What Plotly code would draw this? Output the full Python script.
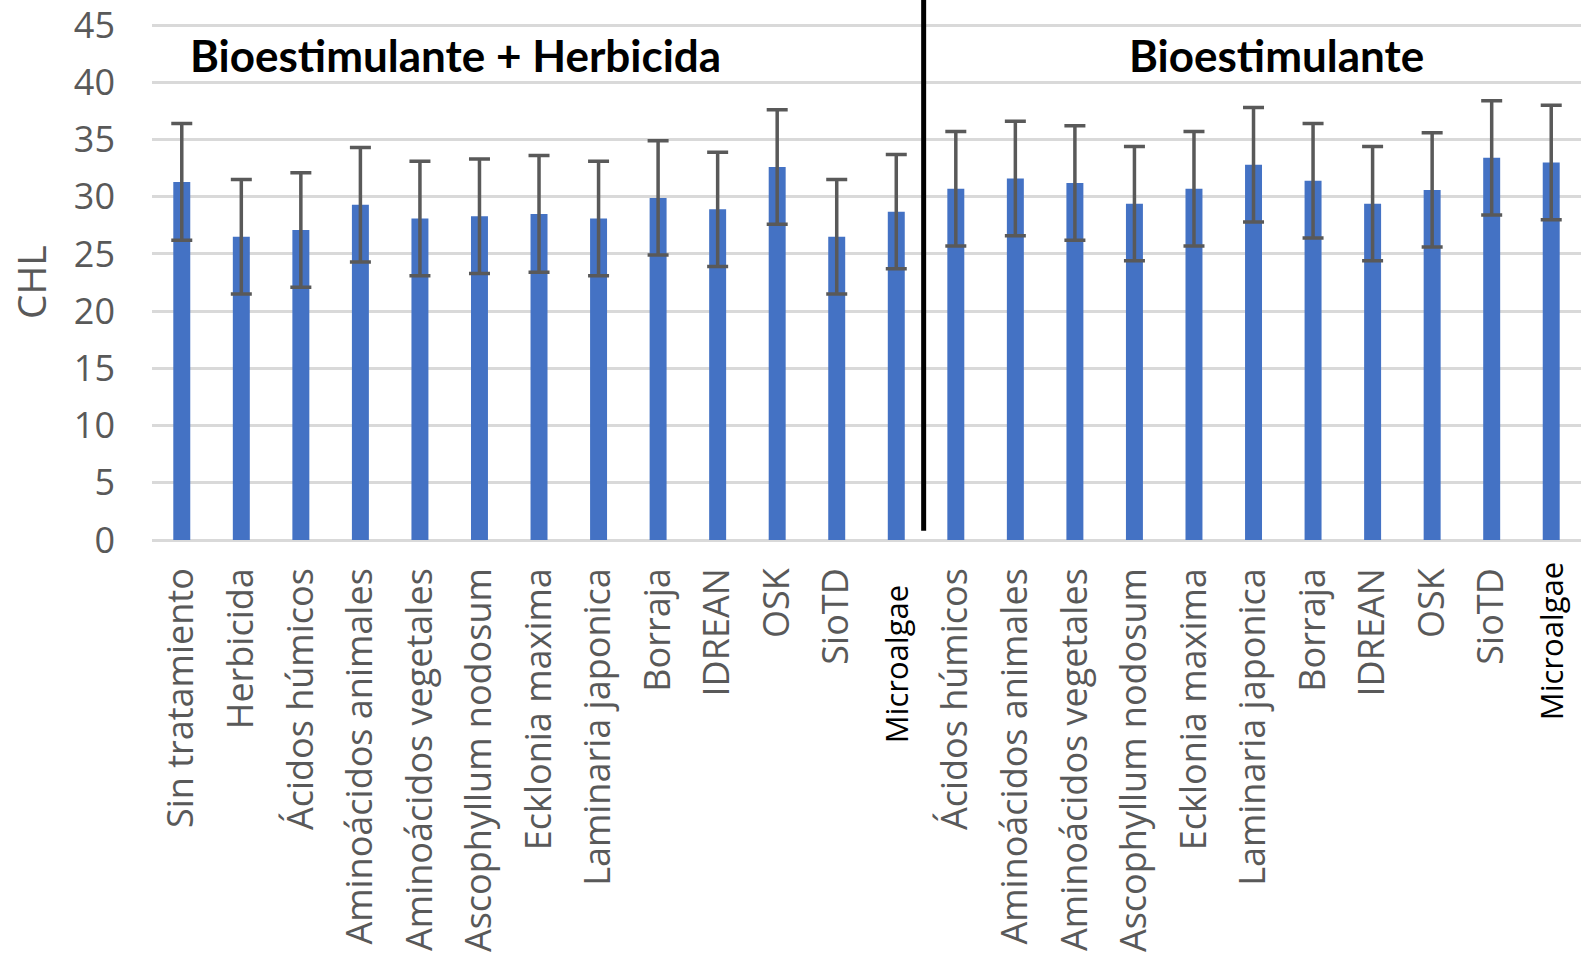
import plotly.graph_objects as go

labels = ["Sin tratamiento", "Herbicida", "Ácidos húmicos", "Aminoácidos animales",
          "Aminoácidos vegetales", "Ascophyllum nodosum", "Ecklonia maxima",
          "Laminaria japonica", "Borraja", "IDREAN", "OSK", "SioTD", "Microalgae",
          "Ácidos húmicos", "Aminoácidos animales", "Aminoácidos vegetales",
          "Ascophyllum nodosum", "Ecklonia maxima", "Laminaria japonica", "Borraja",
          "IDREAN", "OSK", "SioTD", "Microalgae"]
chl = [31.3, 26.5, 27.1, 29.3, 28.1, 28.3, 28.5, 28.1, 29.9, 28.9, 32.6, 26.5, 28.7,
       30.7, 31.6, 31.2, 29.4, 30.7, 32.8, 31.4, 29.4, 30.6, 33.4, 33.0]
err = [5.1, 5.0, 5.0, 5.0, 5.0, 5.0, 5.1, 5.0, 5.0, 5.0, 5.0, 5.0, 5.0,
       5.0, 5.0, 5.0, 5.0, 5.0, 5.0, 5.0, 5.0, 5.0, 5.0, 5.0]
group_titles = ["Bioestimulante + Herbicida", "Bioestimulante"]
yticks = [0, 5, 10, 15, 20, 25, 30, 35, 40, 45]

x = list(range(len(labels)))
ticktext = [("" if lab == "Microalgae" else lab) for lab in labels]

fig = go.Figure()
fig.add_trace(go.Bar(
    x=x, y=chl,
    marker=dict(color="#4472C4", line=dict(width=0)),
    error_y=dict(type="data", array=err, visible=True, color="#595959",
                 thickness=3.5, width=10.5),
))

fig.update_layout(
    width=1581, height=960,
    margin=dict(l=152, r=0, t=24, b=420),
    paper_bgcolor="white", plot_bgcolor="white",
    bargap=0.715, showlegend=False,
    xaxis=dict(range=[-0.5, 23.5], tickmode="array", tickvals=x, ticktext=ticktext,
               tickangle=-90, showgrid=False, zeroline=False, showline=False,
               ticks="", ticklabelstandoff=20,
               tickfont=dict(family="Open Sans", size=36, color="#595959")),
    yaxis=dict(range=[0, 45.1], tickmode="array", tickvals=yticks,
               showgrid=True, gridcolor="#D9D9D9", gridwidth=3,
               zeroline=True, zerolinecolor="#D9D9D9", zerolinewidth=3,
               showline=False, ticks="", ticklabelstandoff=36,
               ticklabeloverflow="allow",
               tickfont=dict(family="Open Sans", size=36, color="#595959")),
)

# vertical divider
fig.add_shape(type="line", xref="x", yref="paper", x0=12.46, x1=12.46,
              y0=0.018, y1=1.06, line=dict(color="black", width=5))

# group titles
fig.add_annotation(text="<b>" + group_titles[0] + "</b>", xref="paper", yref="y",
                   x=0.2127, y=42.35, showarrow=False, xanchor="center", yanchor="middle",
                   font=dict(family="Lato", size=44, color="black"))
fig.add_annotation(text="<b>" + group_titles[1] + "</b>", xref="paper", yref="y",
                   x=0.7866, y=42.35, showarrow=False, xanchor="center", yanchor="middle",
                   font=dict(family="Lato", size=44, color="black"))

# Microalgae labels (black, smaller)
for i, lab in enumerate(labels):
    if lab == "Microalgae":
        ytop = 583 if i < 13 else 560
        fig.add_annotation(text=lab, xref="x", yref="paper", x=i,
                           y=1 - (ytop - 24) / 516, yanchor="top", xanchor="center",
                           textangle=-90, showarrow=False,
                           font=dict(family="Open Sans", size=31, color="black"))

# y axis title
fig.add_annotation(text="CHL", xref="paper", yref="paper", x=-0.0854, y=0.5,
                   xanchor="center", yanchor="middle",
                   textangle=-90, showarrow=False,
                   font=dict(family="Open Sans", size=39, color="#595959"))

fig.write_html("out.html")
